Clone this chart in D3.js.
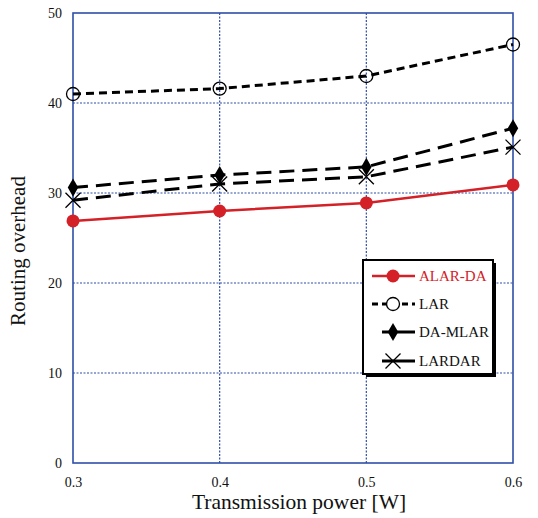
<!DOCTYPE html>
<html><head><meta charset="utf-8">
<script src="https://cdn.jsdelivr.net/npm/d3@7"></script>
<style>body{margin:0;background:#fff}</style>
</head><body>
<svg id="c" width="538" height="518"></svg>
<script>
const xValues = [0.3, 0.4, 0.5, 0.6];
const xTickLabels = ["0.3", "0.4", "0.5", "0.6"];
const yTicks = [0, 10, 20, 30, 40, 50];
const alarDA = [26.9, 28.0, 28.9, 30.9];
const lar = [41.0, 41.6, 43.0, 46.5];
const daMLAR = [30.6, 32.0, 32.9, 37.2];
const lardar = [29.2, 31.0, 31.8, 35.1];
const seriesNames = ["ALAR-DA", "LAR", "DA-MLAR", "LARDAR"];

const series = [
  {name: seriesNames[0], values: alarDA, color: "#d42027", dash: null, width: 2.5, marker: "dot"},
  {name: seriesNames[1], values: lar, color: "#000", dash: "8,5", width: 3, marker: "ocircle"},
  {name: seriesNames[2], values: daMLAR, color: "#000", dash: "15,8", width: 3, marker: "diamond"},
  {name: seriesNames[3], values: lardar, color: "#000", dash: "15,8", width: 3, marker: "x"}
];

const svg = d3.select("#c");
const L = 73, R = 513, T = 13, B = 463;
const x = d3.scaleLinear().domain([0.3, 0.6]).range([L, R]);
const y = d3.scaleLinear().domain([0, 50]).range([B, T]);
const blue = "#2e4fa8";
const font = "'Liberation Serif','Times New Roman',serif";

// grid
svg.append("g").selectAll("line").data(yTicks.slice(1, -1)).join("line")
  .attr("x1", L).attr("x2", R).attr("y1", d => y(d)).attr("y2", d => y(d))
  .attr("stroke", blue).attr("stroke-width", 1.2).attr("stroke-dasharray", "2,1.5");
svg.append("g").selectAll("line").data(xValues.slice(1, -1)).join("line")
  .attr("y1", T).attr("y2", B).attr("x1", d => x(d)).attr("x2", d => x(d))
  .attr("stroke", blue).attr("stroke-width", 1.2).attr("stroke-dasharray", "2,1.5");
svg.append("rect").attr("x", L).attr("y", T).attr("width", R - L).attr("height", B - T)
  .attr("fill", "none").attr("stroke", blue).attr("stroke-width", 1.6);

// axes
const yAxis = d3.axisLeft(y).tickValues(yTicks).tickSize(0).tickPadding(11);
const gy = svg.append("g").attr("transform", `translate(${L},0)`).call(yAxis);
gy.select(".domain").remove();
gy.selectAll("text").attr("font-family", font).attr("font-size", 14).attr("fill", "#111");
const xAxis = d3.axisBottom(x).tickValues(xValues).tickFormat((d, i) => xTickLabels[i]).tickSize(0).tickPadding(14);
const gx = svg.append("g").attr("transform", `translate(0,${B})`).call(xAxis);
gx.select(".domain").remove();
gx.selectAll("text").attr("font-family", font).attr("font-size", 14).attr("fill", "#111");

svg.append("text").attr("x", 299).attr("y", 509).attr("text-anchor", "middle")
  .attr("font-family", font).attr("font-size", 21.5).attr("fill", "#111").text("Transmission power [W]");
svg.append("text").attr("transform", "translate(25,251) rotate(-90)").attr("text-anchor", "middle")
  .attr("font-family", font).attr("font-size", 21).attr("fill", "#111").text("Routing overhead");

function drawMarker(g, type, cx, cy, color) {
  if (type === "dot") g.append("circle").attr("cx", cx).attr("cy", cy).attr("r", 6.5).attr("fill", color);
  else if (type === "ocircle") g.append("circle").attr("cx", cx).attr("cy", cy).attr("r", 6.5).attr("fill", "none").attr("stroke", "#000").attr("stroke-width", 1.3);
  else if (type === "diamond") g.append("path").attr("d", d3.symbol(d3.symbolDiamond, 95)()).attr("transform", `translate(${cx},${cy})`).attr("fill", "#000");
  else if (type === "x") {
    const s = 7.5;
    g.append("path").attr("d", `M${cx - s},${cy - s}L${cx + s},${cy + s}M${cx - s},${cy + s}L${cx + s},${cy - s}`)
      .attr("stroke", "#000").attr("stroke-width", 1.3);
  }
}

const line = d3.line().x((d, i) => x(xValues[i])).y(d => y(d));
series.slice().reverse().forEach(s => {
  const g = svg.append("g");
  g.append("path").attr("d", line(s.values)).attr("fill", "none").attr("stroke", s.color)
    .attr("stroke-width", s.width).attr("stroke-dasharray", s.dash);
  s.values.forEach((v, i) => drawMarker(g, s.marker, x(xValues[i]), y(v), s.color));
});

// legend
const lg = svg.append("g");
lg.append("rect").attr("x", 366).attr("y", 263).attr("width", 130).attr("height", 114).attr("fill", "#000");
lg.append("rect").attr("x", 363).attr("y", 260).attr("width", 130).attr("height", 114).attr("fill", "#fff").attr("stroke", "#000").attr("stroke-width", 2);
const rowsY = [276, 304, 332, 361];
series.forEach((s, i) => {
  const yy = rowsY[i];
  const x0 = i < 2 ? 372 : 382;
  lg.append("line").attr("x1", x0).attr("x2", 415).attr("y1", yy).attr("y2", yy)
    .attr("stroke", s.color).attr("stroke-width", s.width).attr("stroke-dasharray", i === 1 ? "6,4" : null);
  if (s.marker === "ocircle") lg.append("circle").attr("cx", 393).attr("cy", yy).attr("r", 6).attr("fill", "#fff");
  drawMarker(lg, s.marker, 393, yy, s.color);
  lg.append("text").attr("x", 419).attr("y", yy + 5).attr("font-family", font).attr("font-size", 15)
    .attr("fill", i === 0 ? s.color : "#111").text(s.name);
});
</script>
</body></html>
